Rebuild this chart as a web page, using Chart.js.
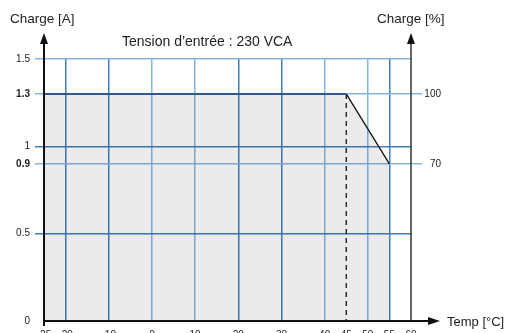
<!DOCTYPE html>
<html>
<head>
<meta charset="utf-8">
<script src="https://cdn.jsdelivr.net/npm/chart.js@4/dist/chart.umd.min.js"></script>
<style>
  html, body { margin: 0; padding: 0; background: #fff; }
  #wrap { width: 513px; height: 333px; overflow: hidden; }
</style>
</head>
<body>
<div id="wrap"><canvas id="chart" width="513" height="333"></canvas></div>
<script>
/* Derating curve: output load vs ambient temperature. */

const tempC = [-25, 45, 55];          // breakpoints of the curve [°C]
const loadA = [1.3, 1.3, 0.9];        // load [A]
const loadPct = [100, 100, 70];       // same load in [%]

const xTicks = [-25, -20, -10, 0, 10, 20, 30, 40, 45, 50, 55, 60];
const yTicks = [0, 0.5, 0.9, 1, 1.3, 1.5];
const boldTicks = [0.9, 1.3];

const FONT = "'Liberation Sans', Arial, sans-serif";
const DARK = '#3f7ebd';
const LIGHT = '#86b5df';

// grid shade per x value (reference alternates two blues)
const xGridColor = {
    '-20': DARK, '-10': DARK, '0': LIGHT, '10': LIGHT, '20': DARK,
    '30': DARK, '40': LIGHT, '50': LIGHT, '55': DARK
};
const yGridColor = { '0.5': DARK, '0.9': LIGHT, '1': DARK, '1.3': LIGHT, '1.5': LIGHT };

const curve = tempC.map((t, i) => ({ x: t, y: loadA[i] }));

const tickVal = c => (c && c.tick ? c.tick.value : null);

// draw arrows, axis lines and the free-standing labels
const decor = {
    id: 'decor',
    afterDatasetsDraw(chart) {
        const { ctx, chartArea: a } = chart;
        ctx.save();
        ctx.strokeStyle = '#111';
        ctx.fillStyle = '#111';

        function arrowUp(x, tipY) {
            ctx.beginPath();
            ctx.moveTo(x, tipY);
            ctx.lineTo(x - 4, tipY + 11);
            ctx.lineTo(x + 4, tipY + 11);
            ctx.closePath();
            ctx.fill();
        }

        // left axis
        ctx.lineWidth = 2;
        ctx.beginPath();
        ctx.moveTo(a.left, a.bottom + 5);
        ctx.lineTo(a.left, a.top - 22);
        ctx.stroke();
        arrowUp(a.left, a.top - 26);

        // right axis
        ctx.lineWidth = 1.5;
        ctx.strokeStyle = '#333';
        ctx.beginPath();
        ctx.moveTo(a.right, a.bottom);
        ctx.lineTo(a.right, a.top - 22);
        ctx.stroke();
        arrowUp(a.right, a.top - 26);

        // bottom axis
        ctx.strokeStyle = '#111';
        ctx.lineWidth = 2;
        ctx.beginPath();
        ctx.moveTo(a.left - 1, a.bottom);
        ctx.lineTo(a.right + 18, a.bottom);
        ctx.stroke();
        ctx.beginPath();
        ctx.moveTo(a.right + 29, a.bottom);
        ctx.lineTo(a.right + 17, a.bottom - 4);
        ctx.lineTo(a.right + 17, a.bottom + 4);
        ctx.closePath();
        ctx.fill();

        ctx.fillStyle = '#222';
        ctx.textBaseline = 'middle';
        ctx.textAlign = 'left';
        ctx.font = '13.5px ' + FONT;
        ctx.fillText('Charge [A]', 10, 19);
        ctx.fillText('Charge [%]', 377, 19);
        ctx.font = '13px ' + FONT;
        ctx.fillText('Temp [°C]', 447, a.bottom + 1);
        ctx.font = '14px ' + FONT;
        ctx.fillText('Tension d\u2019entrée : 230 VCA', 122, 42);
        ctx.restore();
    }
};

new Chart(document.getElementById('chart'), {
    type: 'line',
    data: {
        datasets: [
            {   // shaded operating area
                data: curve,
                fill: 'origin',
                backgroundColor: 'rgba(0,0,0,0.08)',
                borderWidth: 0,
                borderColor: 'rgba(0,0,0,0)',
                pointRadius: 0,
                order: 3
            },
            {   // flat full-load segment
                data: curve.slice(0, 2),
                borderColor: '#2e5b88',
                borderWidth: 2,
                pointRadius: 0,
                fill: false,
                order: 1
            },
            {   // derating slope
                data: curve.slice(1),
                borderColor: '#111',
                borderWidth: 1.3,
                pointRadius: 0,
                fill: false,
                order: 1
            },
            {   // dashed marker at derating start
                data: [{ x: tempC[1], y: loadA[1] }, { x: tempC[1], y: 0 }],
                borderColor: '#111',
                borderWidth: 1.3,
                borderDash: [5, 4],
                pointRadius: 0,
                fill: false,
                order: 1
            }
        ]
    },
    options: {
        responsive: false,
        animation: false,
        layout: { padding: { top: 59, right: 72, left: 0, bottom: 0 } },
        plugins: {
            legend: { display: false },
            tooltip: { enabled: false }
        },
        scales: {
            x: {
                type: 'linear',
                min: -25,
                max: 60,
                afterBuildTicks: s => { s.ticks = xTicks.map(v => ({ value: v })); },
                afterFit: s => { s.height = 12; },
                border: { display: false },
                grid: {
                    drawTicks: false,
                    lineWidth: 1.5,
                    color: c => xGridColor[String(tickVal(c))] || 'rgba(0,0,0,0)'
                },
                ticks: {
                    padding: 8,
                    autoSkip: false,
                    maxRotation: 0,
                    color: '#222',
                    font: { family: FONT, size: 10 }
                }
            },
            y: {
                position: 'left',
                min: 0,
                max: 1.5,
                afterBuildTicks: s => { s.ticks = yTicks.map(v => ({ value: v })); },
                afterFit: s => { s.width = 44; },
                border: { display: false },
                grid: {
                    tickLength: 9,
                    lineWidth: 1.5,
                    color: c => yGridColor[String(tickVal(c))] || 'rgba(0,0,0,0)'
                },
                ticks: {
                    padding: 5,
                    color: '#222',
                    callback: v => String(v),
                    font: c => ({
                        family: FONT,
                        size: 10,
                        weight: boldTicks.includes(tickVal(c)) ? 'bold' : 'normal'
                    })
                }
            },
            pct: {
                position: 'right',
                min: 0,
                max: 1.5,
                afterBuildTicks: s => {
                    s.ticks = loadA.slice(1).map(v => ({ value: v }));
                },
                afterFit: s => { s.width = 30; },
                border: { display: false },
                grid: {
                    drawOnChartArea: false,
                    tickLength: 11,
                    lineWidth: 1.5,
                    color: LIGHT
                },
                ticks: {
                    crossAlign: 'far',
                    color: '#222',
                    font: { family: FONT, size: 10 },
                    callback: v => String(loadPct[loadA.indexOf(v)])
                }
            }
        }
    },
    plugins: [decor]
});
</script>
</body>
</html>
